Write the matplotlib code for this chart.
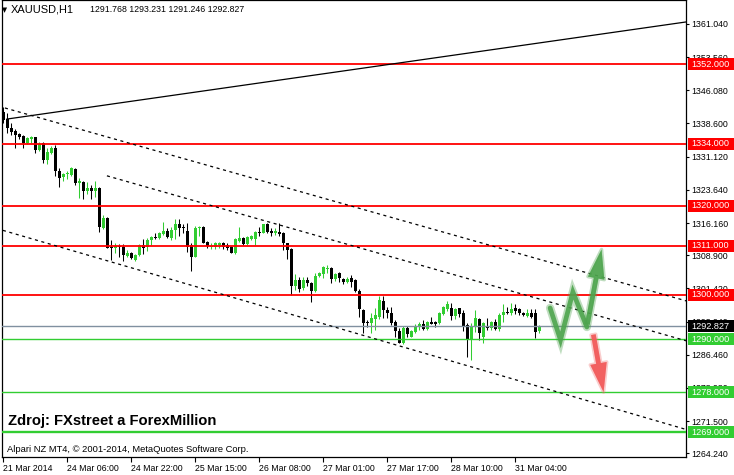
import matplotlib
matplotlib.use("Agg")
import matplotlib.pyplot as plt
import numpy as np
from matplotlib import font_manager, patheffects
from matplotlib.patches import Rectangle, FancyArrowPatch
from matplotlib.transforms import blended_transform_factory

# XAUUSD H1 bars (open, high, low, close)
opens = [1341.27, 1339.54, 1337.51, 1336.98, 1336.23, 1335.86, 1334.13, 1335.03, 1335.48, 1332.62,
         1334.13, 1330.37, 1331.87, 1333.00, 1327.96, 1326.46, 1327.21, 1326.98, 1328.34, 1325.26,
         1325.41, 1323.45, 1324.13, 1323.45, 1324.13, 1315.11, 1317.36, 1310.82, 1310.44, 1311.05,
         1310.82, 1308.79, 1309.32, 1307.81, 1308.94, 1311.20, 1310.82, 1312.32, 1313.08, 1312.70,
         1313.68, 1314.43, 1312.70, 1314.58, 1315.86, 1315.33, 1314.35, 1311.20, 1308.57, 1314.96,
         1315.33, 1311.95, 1310.82, 1310.82, 1311.20, 1311.57, 1311.20, 1310.82, 1309.32, 1312.17,
         1312.70, 1311.42, 1312.47, 1312.47, 1314.20, 1313.98, 1315.93, 1314.43, 1313.83, 1314.21,
         1313.98, 1311.58, 1310.22, 1301.95, 1303.31, 1301.43, 1303.31, 1302.55, 1300.90, 1304.21,
         1304.66, 1305.86, 1306.09, 1303.46, 1304.81, 1303.46, 1302.93, 1303.83, 1303.31, 1300.90,
         1296.54, 1293.91, 1293.68, 1294.51, 1295.04, 1298.57, 1296.54, 1295.79, 1293.91, 1291.80,
         1289.17, 1292.56, 1290.53, 1291.65, 1292.63, 1293.38, 1292.26, 1293.83, 1293.76, 1293.53,
         1295.64, 1296.69, 1296.92, 1295.19, 1296.92, 1295.79, 1293.16, 1289.93, 1292.93, 1294.44,
         1290.53, 1292.93, 1292.41, 1293.91, 1292.18, 1295.41, 1296.16, 1295.79, 1296.92, 1296.69,
         1295.94, 1295.26, 1295.79, 1295.79, 1291.768]
highs = [1342.40, 1340.89, 1338.64, 1337.28, 1336.38, 1336.01, 1335.48, 1335.86, 1335.63, 1334.50,
         1334.35, 1333.00, 1333.60, 1333.75, 1328.49, 1327.51, 1327.89, 1328.86, 1328.49, 1326.38,
         1325.63, 1325.41, 1324.65, 1325.56, 1324.35, 1317.96, 1317.59, 1312.32, 1311.72, 1311.42,
         1311.35, 1310.07, 1309.69, 1309.09, 1311.35, 1312.47, 1312.85, 1313.30, 1313.83, 1314.05,
         1316.38, 1314.96, 1315.18, 1317.06, 1316.99, 1315.93, 1316.23, 1311.57, 1315.48, 1315.48,
         1315.48, 1312.10, 1311.57, 1311.95, 1311.95, 1311.95, 1311.57, 1311.05, 1312.85, 1315.33,
         1313.08, 1313.30, 1313.45, 1314.43, 1315.33, 1315.86, 1316.08, 1314.96, 1314.96, 1316.09,
         1314.21, 1311.73, 1310.60, 1304.66, 1304.06, 1304.06, 1304.06, 1302.93, 1304.81, 1305.19,
         1306.46, 1306.69, 1306.31, 1304.96, 1305.19, 1303.68, 1304.06, 1304.43, 1303.46, 1301.20,
         1296.69, 1294.29, 1295.79, 1296.92, 1299.70, 1299.77, 1297.29, 1297.29, 1294.29, 1292.41,
         1292.93, 1292.93, 1292.03, 1293.31, 1293.91, 1294.29, 1294.06, 1294.89, 1294.14, 1296.16,
         1297.44, 1298.65, 1298.04, 1296.92, 1297.07, 1296.54, 1293.53, 1293.53, 1296.54, 1294.66,
         1293.91, 1294.66, 1294.14, 1294.44, 1295.79, 1297.82, 1297.14, 1298.19, 1297.82, 1296.92,
         1296.16, 1296.69, 1296.69, 1296.77, 1293.231]
lows = [1338.64, 1336.38, 1336.01, 1333.15, 1335.03, 1333.15, 1333.90, 1334.13, 1332.02, 1332.47,
        1329.62, 1329.39, 1331.65, 1326.76, 1324.35, 1325.63, 1326.08, 1326.76, 1324.73, 1321.87,
        1321.50, 1322.62, 1321.50, 1322.10, 1314.20, 1314.73, 1310.44, 1307.81, 1309.32, 1308.57,
        1307.66, 1308.41, 1307.96, 1307.59, 1308.79, 1309.09, 1309.84, 1311.20, 1312.47, 1312.47,
        1313.45, 1312.70, 1312.32, 1312.55, 1313.30, 1313.83, 1309.69, 1305.41, 1308.41, 1313.30,
        1311.57, 1310.44, 1310.29, 1310.29, 1310.44, 1310.29, 1310.07, 1309.32, 1309.17, 1311.95,
        1311.20, 1311.20, 1312.32, 1311.20, 1313.23, 1313.83, 1313.83, 1313.23, 1313.46, 1313.23,
        1310.07, 1307.97, 1299.92, 1301.05, 1300.68, 1301.05, 1301.95, 1298.42, 1300.68, 1303.91,
        1303.68, 1304.81, 1302.55, 1303.08, 1302.93, 1302.40, 1302.55, 1301.80, 1300.68, 1295.04,
        1291.28, 1292.78, 1291.28, 1292.03, 1294.44, 1294.66, 1294.66, 1293.16, 1290.53, 1289.02,
        1288.87, 1290.53, 1290.38, 1291.43, 1292.03, 1292.03, 1292.03, 1293.38, 1292.63, 1293.31,
        1295.41, 1296.39, 1294.29, 1294.44, 1294.89, 1291.88, 1285.86, 1285.26, 1291.65, 1289.77,
        1289.17, 1292.03, 1292.03, 1292.03, 1291.88, 1293.91, 1295.64, 1295.41, 1295.56, 1295.41,
        1295.19, 1295.04, 1294.66, 1290.15, 1291.246]
closes = [1339.39, 1337.51, 1336.76, 1336.01, 1335.63, 1334.13, 1335.25, 1335.63, 1332.62, 1333.90,
          1330.37, 1332.25, 1333.15, 1327.96, 1326.23, 1327.29, 1327.44, 1328.56, 1325.26, 1325.63,
          1323.45, 1324.05, 1323.45, 1324.13, 1315.33, 1317.36, 1310.60, 1310.44, 1311.05, 1310.82,
          1308.94, 1309.47, 1308.34, 1308.94, 1311.20, 1310.44, 1312.32, 1313.08, 1312.70, 1313.83,
          1314.35, 1313.08, 1314.58, 1315.93, 1315.11, 1314.96, 1310.82, 1308.57, 1315.11, 1315.33,
          1311.72, 1311.05, 1311.05, 1311.72, 1311.72, 1310.82, 1310.44, 1309.47, 1312.47, 1312.85,
          1311.42, 1313.08, 1313.23, 1314.20, 1313.98, 1315.86, 1314.20, 1313.98, 1314.43, 1313.61,
          1311.58, 1310.07, 1301.95, 1303.31, 1301.20, 1303.31, 1302.55, 1300.90, 1304.21, 1304.81,
          1306.16, 1306.09, 1303.53, 1304.66, 1303.68, 1302.93, 1303.53, 1302.93, 1300.90, 1296.77,
          1293.68, 1293.53, 1294.66, 1295.41, 1298.80, 1296.54, 1295.79, 1293.68, 1291.80, 1289.17,
          1292.56, 1291.05, 1291.80, 1292.93, 1293.38, 1292.26, 1293.76, 1293.38, 1293.38, 1295.79,
          1297.29, 1297.82, 1295.26, 1296.69, 1295.64, 1292.78, 1289.93, 1292.93, 1294.66, 1291.43,
          1293.68, 1292.41, 1293.91, 1292.18, 1295.41, 1296.16, 1295.79, 1296.69, 1296.39, 1295.94,
          1295.41, 1295.79, 1295.04, 1291.65, 1292.827]

time_ticks = [0, 16, 32, 48, 64, 80, 96, 112, 128]
time_labels = ["21 Mar 2014", "24 Mar 06:00", "24 Mar 22:00", "25 Mar 15:00", "26 Mar 08:00",
               "27 Mar 01:00", "27 Mar 17:00", "28 Mar 10:00", "31 Mar 04:00"]
price_ticks = [1361.04, 1353.56, 1346.08, 1338.60, 1331.12, 1323.64, 1316.16, 1308.90,
               1301.42, 1293.94, 1286.46, 1278.98, 1271.50, 1264.24]

resistances = [1352.0, 1334.0, 1320.0, 1311.0, 1300.0]
supports = [1290.0, 1278.0, 1269.0]
bid = 1292.827

# trend lines as (bar, price) pairs
trend_solid = [(0.9, 1339.6), (170.7, 1361.5)]
channel_upper = [(0.4, 1342.1), (170.7, 1298.6)]
channel_mid = [(25.9, 1326.8), (170.7, 1289.6)]
channel_lower = [(-0.1, 1314.5), (170.7, 1269.6)]

# hand drawn scenario arrows
green_path = [(136.7, 1297.0), (139.3, 1289.8), (142.4, 1300.6), (145.9, 1292.7), (149.7, 1310.8)]
red_path = [(147.4, 1291.6), (150.2, 1277.4)]

RED = "#ff0000"
LIME = "#32cd32"

names = {f.name for f in font_manager.fontManager.ttflist}
if "Liberation Sans Narrow" in names:
    AXFONT, AXSIZE = "Liberation Sans Narrow", 7.2
else:
    AXFONT, AXSIZE = "Liberation Sans", 6.3
plt.rcParams["lines.scale_dashes"] = False

W, H = 734, 475
fig = plt.figure(figsize=(W / 100, H / 100), dpi=100)
fig.patch.set_facecolor("white")
ax = fig.add_axes([2 / W, 18 / H, 684 / W, 457 / H])
ax.set_xlim(-0.33, 170.68)
ax.set_ylim(1263.39, 1366.45)

o = np.array(opens); h = np.array(highs); l = np.array(lows); c = np.array(closes)
x = np.arange(len(o))
up = c >= o
col = np.where(up, LIME, "black")
ax.vlines(x, l, h, colors=col, lw=0.75, zorder=2)
body = np.maximum(np.abs(c - o), 0.25)
ax.bar(x, body, bottom=np.minimum(o, c), width=0.72, color=col, linewidth=0, zorder=2)

for p in resistances:
    ax.axhline(p, color=RED, lw=1.3, zorder=3)
for p, lw in zip(supports, [1.0, 1.0, 1.7]):
    ax.axhline(p, color=LIME, lw=lw, zorder=3)
ax.axhline(bid, color="#8090a0", lw=1.0, zorder=3)

ax.plot(*zip(*trend_solid), color="black", lw=0.9, zorder=3)
for ln in (channel_upper, channel_mid, channel_lower):
    ax.plot(*zip(*ln), color="black", lw=0.9, ls=(0, (2.2, 2.6)), zorder=3)

# arrows
glow_g = [patheffects.Stroke(linewidth=6, foreground="#4a9f4a", alpha=0.35), patheffects.Normal()]
gx, gy = zip(*green_path[:-1])
ax.plot(gx, gy, color="#4ea54e", lw=3.4, alpha=0.9, solid_joinstyle="miter",
        solid_capstyle="round", zorder=6, path_effects=glow_g)
ga = FancyArrowPatch(green_path[-2], green_path[-1], mutation_scale=1,
                     arrowstyle="simple,head_length=21,head_width=12,tail_width=3.4",
                     color="#4ea54e", alpha=0.9, lw=0, zorder=6,
                     path_effects=[patheffects.Stroke(linewidth=2.5, foreground="#4a9f4a", alpha=0.35),
                                   patheffects.Normal()])
ax.add_patch(ga)
ra = FancyArrowPatch(red_path[0], red_path[1], mutation_scale=1,
                     arrowstyle="simple,head_length=21,head_width=12,tail_width=3.4",
                     color="#f25c5c", alpha=0.95, lw=0, zorder=6,
                     path_effects=[patheffects.Stroke(linewidth=2.5, foreground="#f07070", alpha=0.35),
                                   patheffects.Normal()])
ax.add_patch(ra)

# axes styling
for s in ax.spines.values():
    s.set_color("black")
    s.set_linewidth(0.9)
ax.yaxis.tick_right()
ax.set_yticks(price_ticks)
ax.set_yticklabels([f"{p:.3f}" for p in price_ticks], fontfamily=AXFONT, fontsize=AXSIZE)
ax.tick_params(axis="y", direction="out", length=2.5, width=0.8, pad=1.2)
ax.set_xticks(time_ticks)
ax.set_xticklabels(time_labels, fontfamily=AXFONT, fontsize=AXSIZE, ha="left")
ax.tick_params(axis="x", direction="out", length=3.5, width=0.8, pad=1.5)

# price tags on the right scale
tr = blended_transform_factory(ax.transAxes, ax.transData)
tag_w = 46 / 684
tag_h = 12 / 4.434
def price_tag(p, fc):
    ax.add_patch(Rectangle((1.0022, p - tag_h / 2), tag_w, tag_h, transform=tr,
                           facecolor=fc, edgecolor="none", clip_on=False, zorder=8))
    ax.text(1.0022 + tag_w / 2, p, f"{p:.3f}", transform=tr, ha="center", va="center",
            color="white", fontfamily=AXFONT, fontsize=AXSIZE * 1.05, clip_on=False, zorder=9)

for p in resistances:
    price_tag(p, RED)
for p in supports:
    price_tag(p, LIME)
price_tag(bid, "black")

# header and notes
fig.text(2 / W, 1 - 10 / H, "\u25bc", fontsize=4.8, family="DejaVu Sans", va="center")
fig.text(11 / W, 1 - 10 / H, "XAUUSD,H1", fontfamily=AXFONT, fontsize=7.9, va="center")
fig.text(90 / W, 1 - 10 / H, "1291.768 1293.231 1291.246 1292.827",
         fontfamily=AXFONT, fontsize=AXSIZE, va="center")
fig.text(8 / W, 1 - 421 / H, "Zdroj: FXstreet a ForexMillion", fontfamily="Liberation Sans",
         fontweight="bold", fontsize=10.6, va="center")
fig.text(7 / W, 1 - 449 / H, "Alpari NZ MT4, \u00a9 2001-2014, MetaQuotes Software Corp.",
         fontfamily=AXFONT, fontsize=AXSIZE * 1.07, va="center")

fig.savefig("out.png", dpi=100, facecolor="white")
